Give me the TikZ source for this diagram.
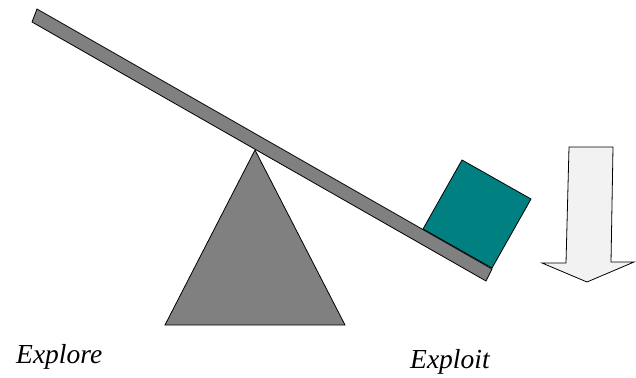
\documentclass[tikz,border=0pt]{standalone}
\usepackage{fontspec}
\setmainfont{Liberation Serif}
\definecolor{beamgray}{HTML}{808080}
\definecolor{boxteal}{HTML}{008080}
\definecolor{arrowfill}{HTML}{F2F2F2}
\begin{document}
\begin{tikzpicture}[x=1pt,y=-1pt,
  shape outline/.style={draw=black, line width=0.8pt, line join=miter},
  lbl/.style={font=\fontsize{27.5}{27.5}\selectfont\itshape, anchor=base west, inner sep=0pt}]
\useasboundingbox (0,0) rectangle (636,377);
% fulcrum
\filldraw[shape outline, fill=beamgray] (255,150) -- (345,325) -- (165,325) -- cycle;
% beam
\filldraw[shape outline, fill=beamgray] (37,9) -- (492,269) -- (486,281) -- (32,22) -- cycle;
% box
\filldraw[shape outline, fill=boxteal] (423,229) -- (492,268) -- (531,199) -- (462,160) -- cycle;
% arrow
\filldraw[shape outline, fill=arrowfill] (569,147) -- (613,147) -- (611,262) -- (634,262) -- (587,282) -- (542,263) -- (566,263) -- cycle;
\node[lbl] (explore) at (16,363) {Explore};
\node[lbl] (exploit) at (410,368) {Exploit};
\end{tikzpicture}
\end{document}
